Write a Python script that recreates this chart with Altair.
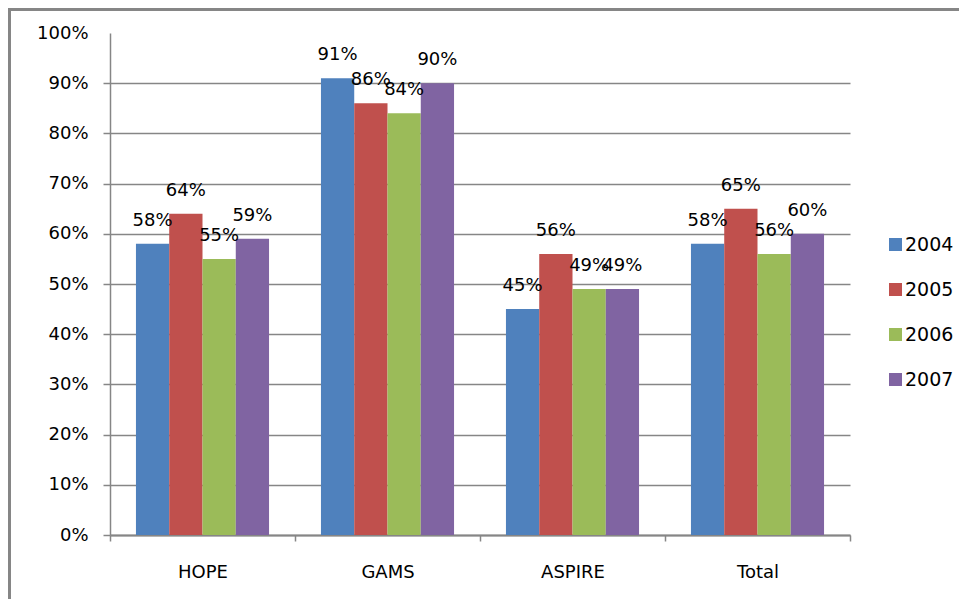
import altair as alt
import pandas as pd

programs = ["HOPE", "GAMS", "ASPIRE", "Total"]
years = ["2004", "2005", "2006", "2007"]
v2004 = [58, 91, 45, 58]
v2005 = [64, 86, 56, 65]
v2006 = [55, 84, 49, 56]
v2007 = [59, 90, 49, 60]
series = [v2004, v2005, v2006, v2007]
colors = ["#4F81BD", "#C0504D", "#9BBB59", "#8064A2"]
y_ticks = [0, 0.1, 0.2, 0.3, 0.4, 0.5, 0.6, 0.7, 0.8, 0.9, 1.0]

rows = []
for i, p in enumerate(programs):
    for yr, vals in zip(years, series):
        rows.append({"program": p, "year": yr, "value": vals[i] / 100})
df = pd.DataFrame(rows)

FONT = "DejaVu Sans"
GRAY = "#868686"

x_enc = alt.X(
    "program:N",
    sort=programs,
    scale=alt.Scale(paddingInner=0, paddingOuter=0),
    axis=alt.Axis(
        title=None, labelAngle=0, tickBand="extent", ticks=True, tickSize=6,
        labelPadding=22, labelFontSize=18, labelFont=FONT, labelColor="black",
        domainColor=GRAY, tickColor=GRAY, domainWidth=2, tickWidth=1.5, grid=False,
    ),
)
xoff_enc = alt.XOffset(
    "year:N", sort=years, scale=alt.Scale(paddingInner=0, paddingOuter=0.78)
)
y_enc = alt.Y(
    "value:Q",
    scale=alt.Scale(domain=[0, 1], nice=False),
    axis=alt.Axis(
        title=None, values=y_ticks, format=".0%", tickSize=7,
        labelPadding=15, labelFontSize=18, labelFont=FONT, labelColor="black",
        domainColor=GRAY, domainWidth=1.5, tickColor=GRAY, tickWidth=1.5,
        gridColor=GRAY, gridWidth=1.5,
        gridOpacity={"condition": {"test": "datum.value >= 1", "value": 0}, "value": 1},
        tickOpacity={"condition": {"test": "datum.value >= 1", "value": 0}, "value": 1},
    ),
)

base = alt.Chart(df)
bars = base.mark_bar().encode(
    x=x_enc,
    xOffset=xoff_enc,
    y=y_enc,
    color=alt.Color(
        "year:N", sort=years,
        scale=alt.Scale(domain=years, range=colors),
        legend=alt.Legend(
            title=None, orient="none", legendX=776, legendY=202,
            symbolType="square", symbolSize=169, symbolStrokeWidth=0,
            labelFontSize=19, labelFont=FONT, labelColor="black",
            rowPadding=25, labelOffset=0, padding=0,
        ),
    ),
)
labels = base.mark_text(dy=-18, baseline="alphabetic", fontSize=18, font=FONT, color="black").encode(
    x=alt.X("program:N", sort=programs),
    xOffset=alt.XOffset("year:N", sort=years),
    y="value:Q",
    text=alt.Text("value:Q", format=".0%"),
)
one = pd.DataFrame({"a": [0]})
border_left = alt.Chart(one).mark_rule(stroke=GRAY, strokeWidth=3).encode(
    x=alt.value(-100.5), y=alt.value(-25), y2=alt.value(700)
)
border_top = alt.Chart(one).mark_rule(stroke=GRAY, strokeWidth=3).encode(
    x=alt.value(-102), x2=alt.value(900), y=alt.value(-23.5)
)

chart = alt.layer(border_left, border_top, bars, labels).properties(
    width=740, height=502,
    autosize=alt.AutoSizeParams(type="none"),
    padding={"left": 102, "top": 25, "right": 109, "bottom": 64},
).configure_view(stroke=None)

chart.save("out.html", embed_options={"renderer": "svg", "actions": False})
